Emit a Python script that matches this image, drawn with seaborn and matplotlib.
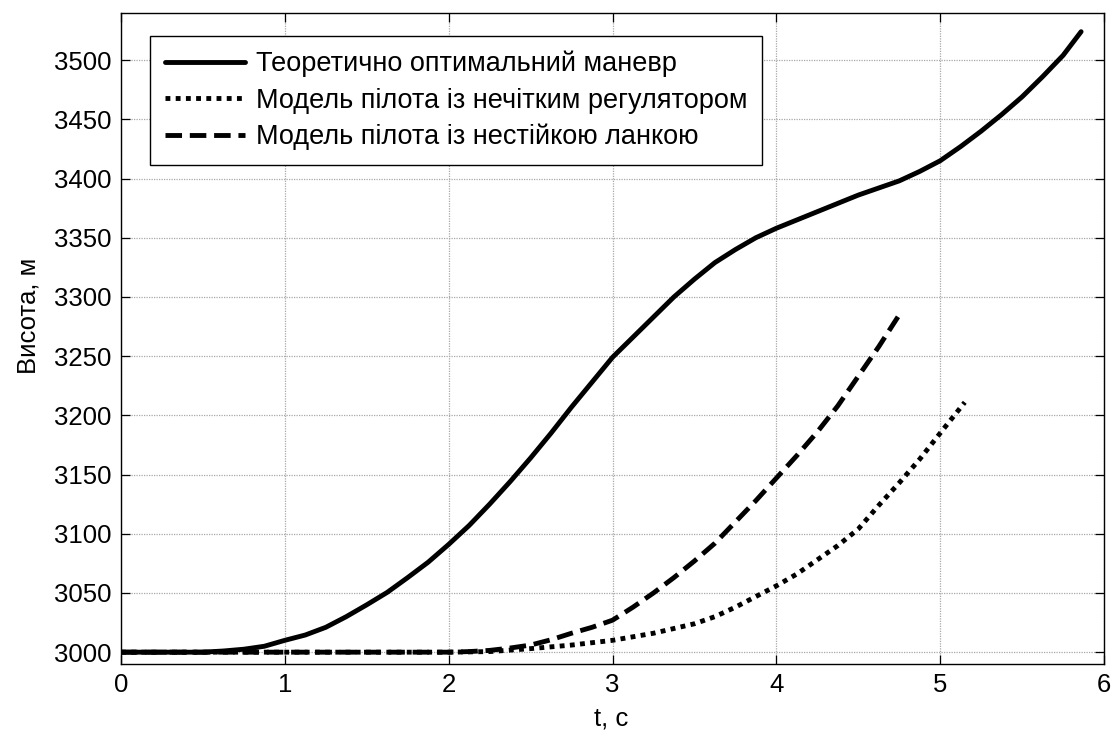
import matplotlib
matplotlib.use("Agg")
import matplotlib.pyplot as plt
import seaborn as sns

# ---- data ----
t_opt = [0, 0.25, 0.5, 0.625, 0.75, 0.875, 1.0, 1.125, 1.25, 1.375, 1.5, 1.625, 1.75, 1.875,
         2.0, 2.125, 2.25, 2.375, 2.5, 2.625, 2.75, 2.875, 3.0, 3.125, 3.25, 3.375, 3.5,
         3.625, 3.75, 3.875, 4.0, 4.125, 4.25, 4.375, 4.5, 4.625, 4.75, 4.875, 5.0,
         5.125, 5.25, 5.375, 5.5, 5.625, 5.75, 5.86]
h_opt = [3000, 3000, 3000, 3001, 3002.5, 3005, 3010, 3014.5, 3021, 3030, 3040, 3050.5, 3063, 3076,
         3091, 3107, 3125, 3144, 3164, 3185, 3207, 3228, 3249, 3266, 3283, 3300, 3315,
         3329, 3340, 3350, 3358, 3365, 3372, 3379, 3386, 3392, 3398, 3406, 3415,
         3427, 3440, 3454, 3469, 3486, 3504, 3524]

t_fuzzy = [0, 0.5, 1.0, 1.5, 2.0, 2.25, 2.5, 2.75, 3.0, 3.25, 3.5, 3.625, 3.75, 3.875,
           4.0, 4.125, 4.25, 4.375, 4.5, 4.625, 4.75, 4.875, 5.0, 5.15]
h_fuzzy = [3000, 3000, 3000, 3000, 3000, 3000.5, 3003, 3006, 3010, 3016, 3024, 3030, 3038, 3047,
           3056, 3066, 3078, 3090, 3104, 3124, 3143, 3163, 3185, 3211]

t_unst = [0, 0.5, 1.0, 1.5, 2.0, 2.125, 2.25, 2.375, 2.5, 2.625, 2.75, 2.875, 3.0, 3.125,
          3.25, 3.375, 3.5, 3.625, 3.75, 3.875, 4.0, 4.125, 4.25, 4.375, 4.5, 4.625, 4.76]
h_unst = [3000, 3000, 3000, 3000, 3000, 3000.5, 3001.5, 3003.5, 3006, 3010.5, 3016, 3021, 3027, 3038,
          3050, 3063, 3077, 3092, 3110, 3128, 3147, 3166, 3186, 3208, 3233, 3258, 3287]

labels = ["Теоретично оптимальний маневр",
          "Модель пілота із нечітким регулятором",
          "Модель пілота із нестійкою ланкою"]

x_ticks = [0, 1, 2, 3, 4, 5, 6]
y_ticks = [3000, 3050, 3100, 3150, 3200, 3250, 3300, 3350, 3400, 3450, 3500]

# ---- styling ----
sns.set_theme(style="white")
plt.rcParams["font.family"] = ["Liberation Sans", "DejaVu Sans"]
plt.rcParams["text.color"] = "black"
plt.rcParams["axes.labelcolor"] = "black"
FS = 18.5
FS_LEG = 19.5

fig = plt.figure(figsize=(11.17, 7.36), dpi=100)
ax = fig.add_axes([0.1083, 0.0978, 0.8801, 0.8849])

lw = 3.5
sns.lineplot(x=t_opt, y=h_opt, ax=ax, color="black", linewidth=lw,
             linestyle="-", label=labels[0], sort=False)
sns.lineplot(x=t_fuzzy, y=h_fuzzy, ax=ax, color="black", linewidth=lw,
             linestyle=(0, (1, 1.1)), label=labels[1], sort=False)
sns.lineplot(x=t_unst, y=h_unst, ax=ax, color="black", linewidth=lw,
             linestyle=(0, (3.4, 1.6)), label=labels[2], sort=False)

ax.set_xlim(0, 6)
ax.set_ylim(2990, 3540)
ax.set_xticks(x_ticks)
ax.set_yticks(y_ticks)
ax.set_xticklabels([str(v) for v in x_ticks])
ax.set_yticklabels([str(v) for v in y_ticks])

ax.grid(True, color="#a8a8a8", linestyle=(0, (1, 1)), linewidth=0.9)
ax.set_axisbelow(True)
for s in ax.spines.values():
    s.set_visible(True)
    s.set_color("black")
    s.set_linewidth(1.0)

ax.tick_params(axis="both", which="major", direction="in", length=6.5, width=0.9,
               color="black", labelsize=FS, labelcolor="black",
               top=True, right=True, bottom=True, left=True, pad=6.6)

ax.set_xlabel("t, c", fontsize=FS, color="black")
ax.set_ylabel("Висота, м", fontsize=FS, color="black")
ax.xaxis.set_label_coords(0.499, -0.0656)
ax.yaxis.set_label_coords(-0.082, 0.534)

leg = ax.legend(loc="upper left", bbox_to_anchor=(0.0295, 0.9642), borderaxespad=0,
                fontsize=FS_LEG, frameon=True, fancybox=False, shadow=False,
                framealpha=1, edgecolor="black", handlelength=2.95,
                handletextpad=0.4, borderpad=0.55, labelspacing=0.376)
leg.get_frame().set_linewidth(1.0)
for txt in leg.get_texts():
    txt.set_color("black")

fig.savefig("out.png", dpi=100)
